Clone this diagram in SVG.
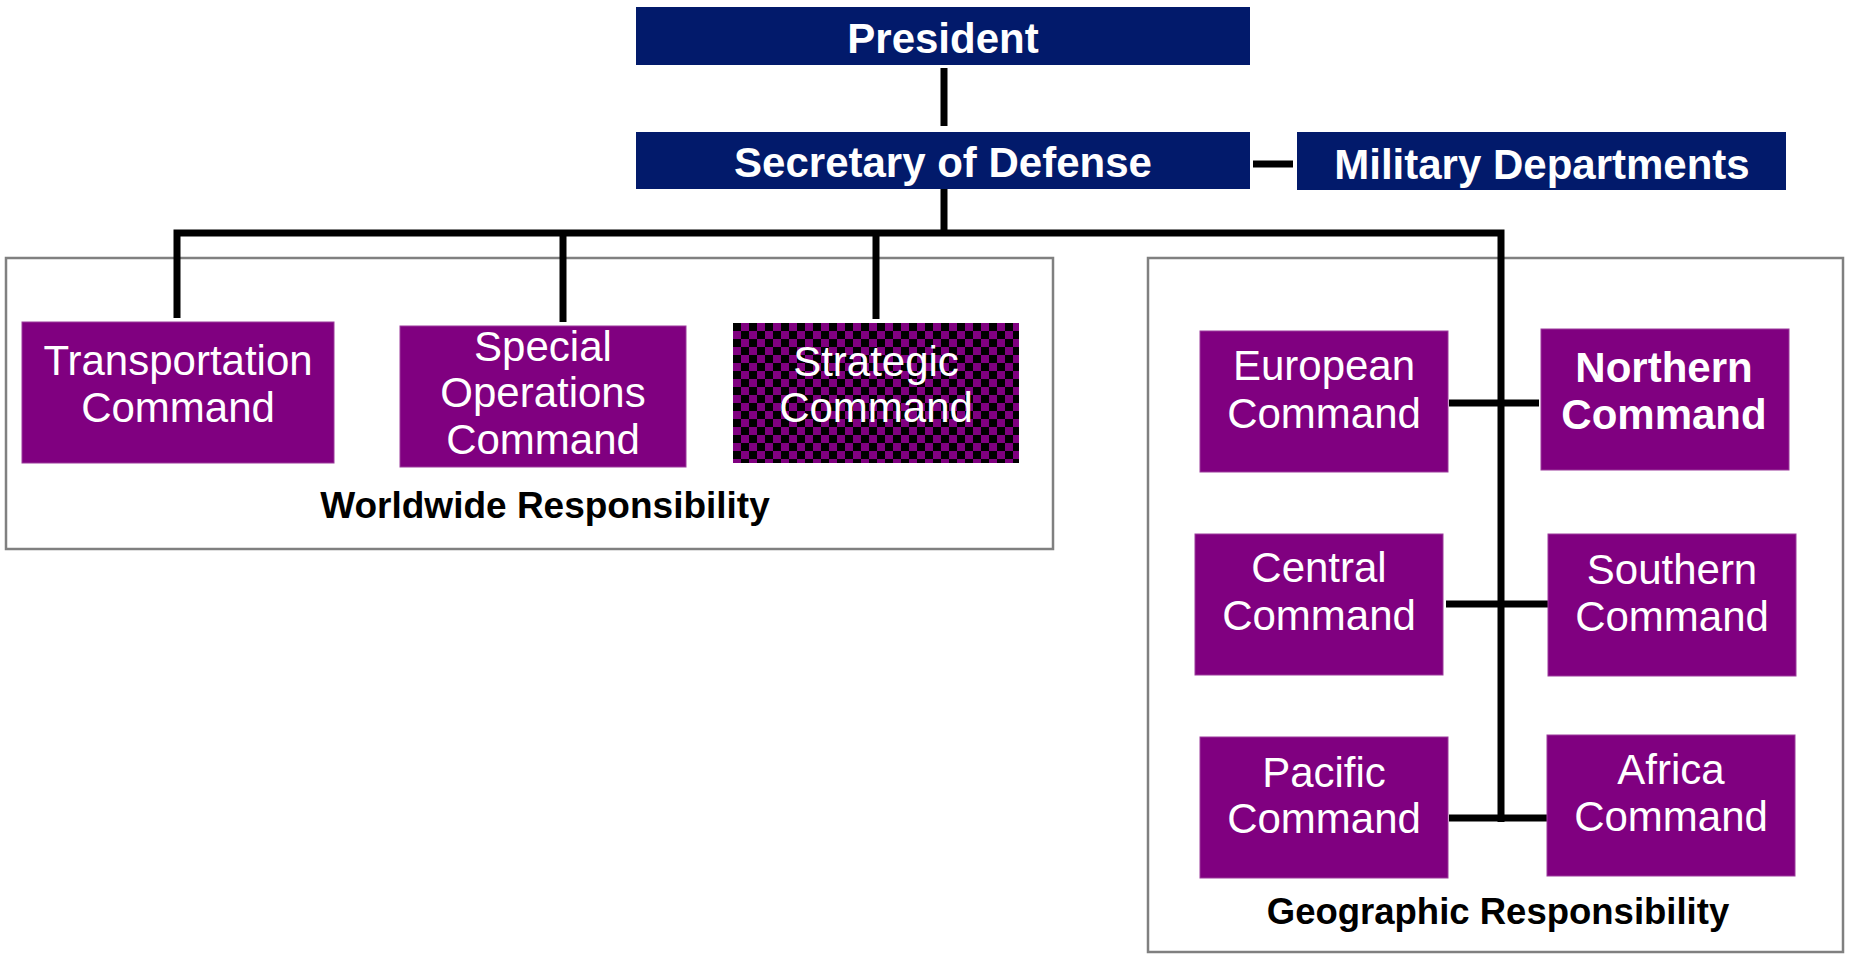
<svg xmlns="http://www.w3.org/2000/svg" width="1850" height="955" viewBox="0 0 1850 955">
<style>
.navy{fill:#021a6b}
.purp{fill:#800080;stroke:#9b3b9b;stroke-width:1}
.grp{fill:none;stroke:#808080;stroke-width:2.5}
.t1{font-family:"Liberation Sans",Arial,sans-serif;font-weight:bold;font-size:42px;fill:#fff;text-anchor:middle}
.t2{font-family:"Liberation Sans",Arial,sans-serif;font-size:42px;fill:#fff;text-anchor:middle}
.lbl{font-family:"Liberation Sans",Arial,sans-serif;font-weight:bold;fill:#000;text-anchor:middle}
.con{fill:none;stroke:#000;stroke-width:7;stroke-linejoin:miter;stroke-linecap:butt}
</style>
<defs>
<pattern id="chk" patternUnits="userSpaceOnUse" x="733" y="323" width="16" height="16">
<rect width="16" height="16" fill="#800080"/>
<rect width="8" height="8" fill="#000"/>
<rect x="8" y="8" width="8" height="8" fill="#000"/>
</pattern>
</defs>
<rect width="1850" height="955" fill="#fff"/>
<g id="worldwide-group">
<rect class="grp" x="6" y="258" width="1047" height="291"/>
<text class="lbl" x="545" y="518" font-size="37">Worldwide Responsibility</text>
</g>
<g id="geographic-group">
<rect class="grp" x="1148" y="258" width="695" height="694"/>
<text class="lbl" x="1498" y="924" font-size="36.5">Geographic Responsibility</text>
</g>
<g id="connectors">
<path class="con" d="M944 68V126"/>
<path class="con" d="M944 189V233"/>
<path class="con" d="M1253 164H1293"/>
<path class="con" d="M177 318V233H1501V822"/>
<path class="con" d="M563 233V322"/>
<path class="con" d="M876 233V319"/>
<path class="con" d="M1449 403H1539"/>
<path class="con" d="M1446 604H1548"/>
<path class="con" d="M1449 818H1547"/>
</g>
<g id="president">
<rect class="navy" x="636" y="7" width="614" height="58"/>
<text class="t1" x="943" y="53">President</text>
</g>
<g id="secretary-of-defense">
<rect class="navy" x="636" y="132" width="614" height="57"/>
<text class="t1" x="943" y="177">Secretary of Defense</text>
</g>
<g id="military-departments">
<rect class="navy" x="1297" y="132" width="489" height="58"/>
<text class="t1" x="1542" y="179">Military Departments</text>
</g>
<g id="transportation-command">
<rect class="purp" x="22" y="322" width="312" height="141"/>
<text class="t2" x="178" y="375">Transportation</text>
<text class="t2" x="178" y="422">Command</text>
</g>
<g id="special-operations-command">
<rect class="purp" x="400" y="326" width="286" height="141"/>
<text class="t2" x="543" y="361">Special</text>
<text class="t2" x="543" y="407">Operations</text>
<text class="t2" x="543" y="454">Command</text>
</g>
<g id="strategic-command">
<rect x="733" y="323" width="286" height="140" fill="url(#chk)"/>
<text class="t2" x="876" y="376">Strategic</text>
<text class="t2" x="876" y="422">Command</text>
</g>
<g id="european-command">
<rect class="purp" x="1200" y="331" width="248" height="141"/>
<text class="t2" x="1324" y="380">European</text>
<text class="t2" x="1324" y="428">Command</text>
</g>
<g id="northern-command">
<rect class="purp" x="1541" y="329" width="248" height="141"/>
<text class="t1" x="1664" y="382" font-size="43">Northern</text>
<text class="t1" x="1664" y="429" font-size="43">Command</text>
</g>
<g id="central-command">
<rect class="purp" x="1195" y="534" width="248" height="141"/>
<text class="t2" x="1319" y="582">Central</text>
<text class="t2" x="1319" y="630">Command</text>
</g>
<g id="southern-command">
<rect class="purp" x="1548" y="534" width="248" height="142"/>
<text class="t2" x="1672" y="584">Southern</text>
<text class="t2" x="1672" y="631">Command</text>
</g>
<g id="pacific-command">
<rect class="purp" x="1200" y="737" width="248" height="141"/>
<text class="t2" x="1324" y="787">Pacific</text>
<text class="t2" x="1324" y="833">Command</text>
</g>
<g id="africa-command">
<rect class="purp" x="1547" y="735" width="248" height="141"/>
<text class="t2" x="1671" y="784">Africa</text>
<text class="t2" x="1671" y="831">Command</text>
</g>
</svg>
